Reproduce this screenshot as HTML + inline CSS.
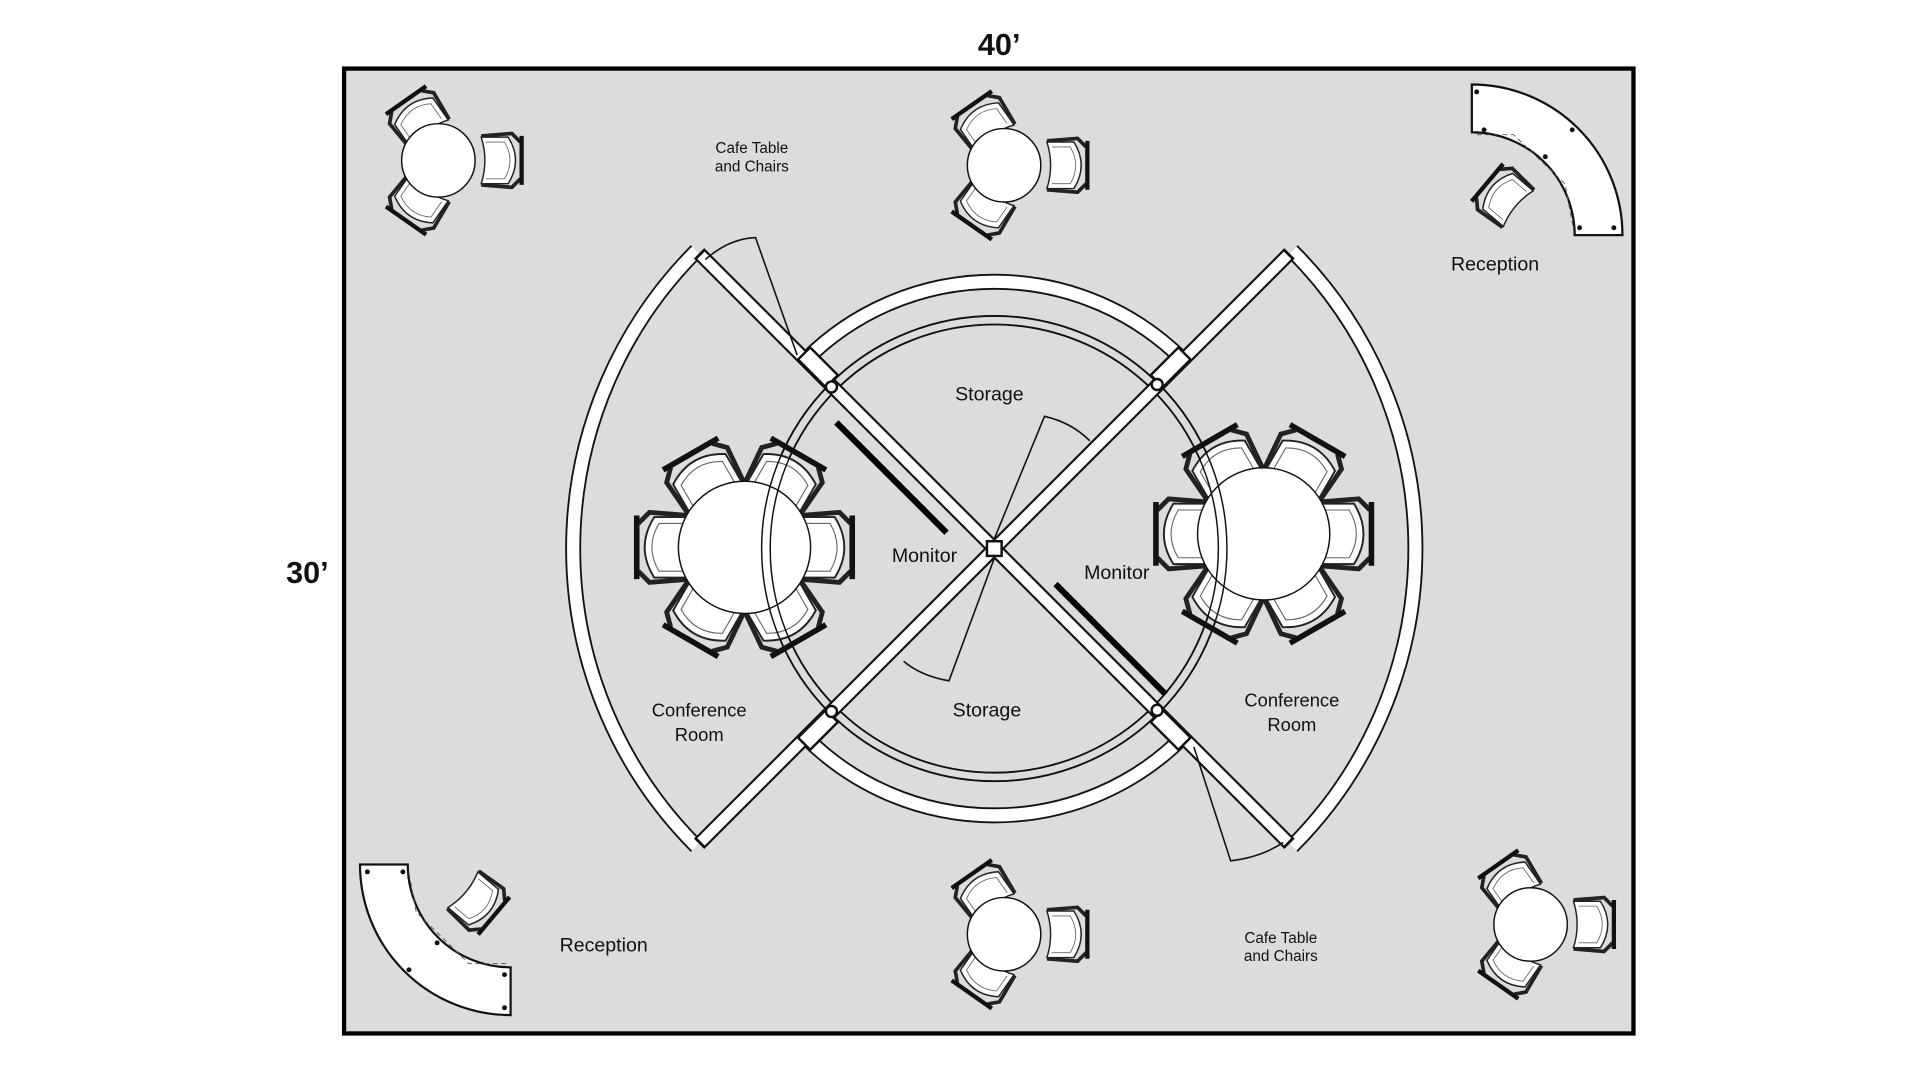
<!DOCTYPE html>
<html><head><meta charset="utf-8"><style>
html,body{margin:0;padding:0;background:#fff;width:1920px;height:1080px;overflow:hidden}
svg{display:block}
text{font-family:"Liberation Sans",sans-serif;fill:#111}
</style></head><body>
<svg width="1920" height="1080" viewBox="0 0 1568 882" xmlns="http://www.w3.org/2000/svg">
<defs>
<g id="chair">
<path d="M-13,-19 L9,-19 Q21,0 9,19 L-13,19 Q-7,0 -13,-19Z" fill="#fff" stroke="#222" stroke-width="1.2"/>
<path d="M-9,-15 L6,-15 Q15,0 6,15 L-9,15" fill="none" stroke="#666" stroke-width="0.7"/>
<path d="M-13,-20 L12,-22 L19,-15" fill="none" stroke="#222" stroke-width="3"/>
<path d="M-13,20 L12,22 L19,15" fill="none" stroke="#222" stroke-width="3"/>
<line x1="20" y1="-20" x2="20" y2="20" stroke="#111" stroke-width="3.5"/>
</g>
<g id="cchair"><g transform="scale(1.3)"><use href="#chair"/></g></g>
</defs>
<rect x="281" y="56" width="1053" height="788" fill="#dcdcdc" stroke="#000" stroke-width="3.5"/>
<text x="816" y="45" font-size="25" font-weight="bold" text-anchor="middle">40’</text>
<text x="251" y="476" font-size="25" font-weight="bold" text-anchor="middle">30’</text>

<g fill="none">
<path d="M657.9,293.9 A218,218 0 0 1 966.1,293.9" stroke="#111" stroke-width="13"/>
<path d="M657.9,293.9 A218,218 0 0 1 966.1,293.9" stroke="#fff" stroke-width="10"/>
<path d="M966.1,602.1 A218,218 0 0 1 657.9,602.1" stroke="#111" stroke-width="13"/>
<path d="M966.1,602.1 A218,218 0 0 1 657.9,602.1" stroke="#fff" stroke-width="10"/>
<path d="M568.8,691.2 A344,344 0 0 1 568.8,204.8" stroke="#111" stroke-width="13"/>
<path d="M568.8,691.2 A344,344 0 0 1 568.8,204.8" stroke="#fff" stroke-width="10"/>
<path d="M1055.2,204.8 A344,344 0 0 1 1055.2,691.2" stroke="#111" stroke-width="13"/>
<path d="M1055.2,204.8 A344,344 0 0 1 1055.2,691.2" stroke="#fff" stroke-width="10"/>
<circle cx="812" cy="448" r="190" stroke="#111" stroke-width="1.5"/>
<circle cx="812" cy="448" r="183" stroke="#111" stroke-width="1.5"/>
</g>

<g>
<g transform="translate(608,447) rotate(180) translate(62,0)"><use href="#cchair"/></g>
<g transform="translate(608,447) rotate(240) translate(62,0)"><use href="#cchair"/></g>
<g transform="translate(608,447) rotate(300) translate(62,0)"><use href="#cchair"/></g>
<g transform="translate(608,447) rotate(0) translate(62,0)"><use href="#cchair"/></g>
<g transform="translate(608,447) rotate(60) translate(62,0)"><use href="#cchair"/></g>
<g transform="translate(608,447) rotate(120) translate(62,0)"><use href="#cchair"/></g>
<circle cx="608" cy="447" r="54" fill="#fff" stroke="#111" stroke-width="1.2"/>
<g transform="translate(1032,436) rotate(180) translate(62,0)"><use href="#cchair"/></g>
<g transform="translate(1032,436) rotate(240) translate(62,0)"><use href="#cchair"/></g>
<g transform="translate(1032,436) rotate(300) translate(62,0)"><use href="#cchair"/></g>
<g transform="translate(1032,436) rotate(0) translate(62,0)"><use href="#cchair"/></g>
<g transform="translate(1032,436) rotate(60) translate(62,0)"><use href="#cchair"/></g>
<g transform="translate(1032,436) rotate(120) translate(62,0)"><use href="#cchair"/></g>
<circle cx="1032" cy="436" r="54" fill="#fff" stroke="#111" stroke-width="1.2"/>
</g>
<circle cx="812" cy="448" r="190" fill="none" stroke="#111" stroke-width="1.2"/>
<circle cx="812" cy="448" r="183" fill="none" stroke="#111" stroke-width="1.2"/>

<g stroke-linecap="butt">
<line x1="570.9" y1="206.9" x2="1053.1" y2="689.1" stroke="#111" stroke-width="12"/>
<line x1="1053.1" y1="206.9" x2="570.9" y2="689.1" stroke="#111" stroke-width="12"/>
<line x1="572.5" y1="208.5" x2="1051.5" y2="687.5" stroke="#fff" stroke-width="8.5"/>
<line x1="1051.5" y1="208.5" x2="572.5" y2="687.5" stroke="#fff" stroke-width="8.5"/>
</g>
<rect x="806" y="442" width="12" height="12" fill="#fff" stroke="#111" stroke-width="2"/>
<g fill="#fff" stroke="#111" stroke-width="2">
<rect x="-7" y="-16" width="14" height="32" transform="translate(668,300) rotate(-45)"/>
<rect x="-7" y="-16" width="14" height="32" transform="translate(956,300) rotate(45)"/>
<rect x="-7" y="-16" width="14" height="32" transform="translate(668,596) rotate(45)"/>
<rect x="-7" y="-16" width="14" height="32" transform="translate(956,596) rotate(-45)"/>
<circle cx="679" cy="316" r="4.5"/><circle cx="945" cy="314" r="4.5"/>
<circle cx="679" cy="581" r="4.5"/><circle cx="945" cy="580" r="4.5"/>
</g>
<line x1="683" y1="345" x2="773" y2="435" stroke="#000" stroke-width="5"/>
<line x1="862" y1="477" x2="952" y2="567" stroke="#000" stroke-width="5"/>
<g fill="none" stroke="#111" stroke-width="1.3">
<path d="M576,212 Q595,195 617,194 L651,290"/>
<path d="M812,440 L853,340 Q875,345 890,360"/>
<path d="M812,456 L775,556 Q752,552 738,540"/>
<path d="M975,610 L1005,703 Q1030,700 1048,688"/>
</g>

<g>
<g transform="translate(366,131) rotate(0) translate(40,0)"><use href="#chair"/></g>
<g transform="translate(366,131) rotate(-125) translate(40,0)"><use href="#chair"/></g>
<g transform="translate(366,131) rotate(125) translate(40,0)"><use href="#chair"/></g>
<circle cx="358" cy="131" r="30" fill="#fff" stroke="#111" stroke-width="1.2"/>
<g transform="translate(828,135) rotate(0) translate(40,0)"><use href="#chair"/></g>
<g transform="translate(828,135) rotate(-125) translate(40,0)"><use href="#chair"/></g>
<g transform="translate(828,135) rotate(125) translate(40,0)"><use href="#chair"/></g>
<circle cx="820" cy="135" r="30" fill="#fff" stroke="#111" stroke-width="1.2"/>
<g transform="translate(828,763) rotate(0) translate(40,0)"><use href="#chair"/></g>
<g transform="translate(828,763) rotate(-125) translate(40,0)"><use href="#chair"/></g>
<g transform="translate(828,763) rotate(125) translate(40,0)"><use href="#chair"/></g>
<circle cx="820" cy="763" r="30" fill="#fff" stroke="#111" stroke-width="1.2"/>
<g transform="translate(1258,755) rotate(0) translate(40,0)"><use href="#chair"/></g>
<g transform="translate(1258,755) rotate(-125) translate(40,0)"><use href="#chair"/></g>
<g transform="translate(1258,755) rotate(125) translate(40,0)"><use href="#chair"/></g>
<circle cx="1250" cy="755" r="30" fill="#fff" stroke="#111" stroke-width="1.2"/>
</g>

<path d="M1202,69 A123,123 0 0 1 1325,192 L1286,192 A84,84 0 0 0 1202,108 Z" fill="#fff" stroke="#111" stroke-width="1.8"/>
<path d="M1206,110 L1236,110 L1278,150 L1285,187" fill="none" stroke="#555" stroke-width="0.8" stroke-dasharray="4,3"/>
<g transform="translate(1230,162) rotate(-140)"><use href="#chair"/></g>
<path d="M417,829 A123,123 0 0 1 294,706 L333,706 A84,84 0 0 0 417,790 Z" fill="#fff" stroke="#111" stroke-width="1.8"/>
<path d="M334,713 L340,745 L383,787 L414,787" fill="none" stroke="#555" stroke-width="0.8" stroke-dasharray="4,3"/>
<g transform="translate(388,735) rotate(40)"><use href="#chair"/></g>
<g fill="#111"><circle cx="1206" cy="75" r="2"/><circle cx="1212" cy="106" r="2"/><circle cx="1262" cy="128" r="2"/><circle cx="1284" cy="106" r="2"/><circle cx="1290" cy="186" r="2"/><circle cx="1318" cy="186" r="2"/>
<circle cx="300" cy="712" r="2"/><circle cx="329" cy="712" r="2"/><circle cx="357" cy="770" r="2"/><circle cx="334" cy="792" r="2"/><circle cx="412" cy="796" r="2"/><circle cx="412" cy="823" r="2"/></g>

<g text-anchor="middle">
<text x="614" y="125" font-size="12.5">Cafe Table</text>
<text x="614" y="140" font-size="12.5">and Chairs</text>
<text x="1046" y="770" font-size="12.5">Cafe Table</text>
<text x="1046" y="785" font-size="12.5">and Chairs</text>
<text x="1221" y="221" font-size="16">Reception</text>
<text x="493" y="777" font-size="16">Reception</text>
<text x="808" y="327" font-size="16">Storage</text>
<text x="806" y="585" font-size="16">Storage</text>
<text x="755" y="459" font-size="16">Monitor</text>
<text x="912" y="473" font-size="16">Monitor</text>
<text x="571" y="585" font-size="15">Conference</text>
<text x="571" y="605" font-size="15">Room</text>
<text x="1055" y="577" font-size="15">Conference</text>
<text x="1055" y="597" font-size="15">Room</text>
</g>
</svg>
</body></html>
